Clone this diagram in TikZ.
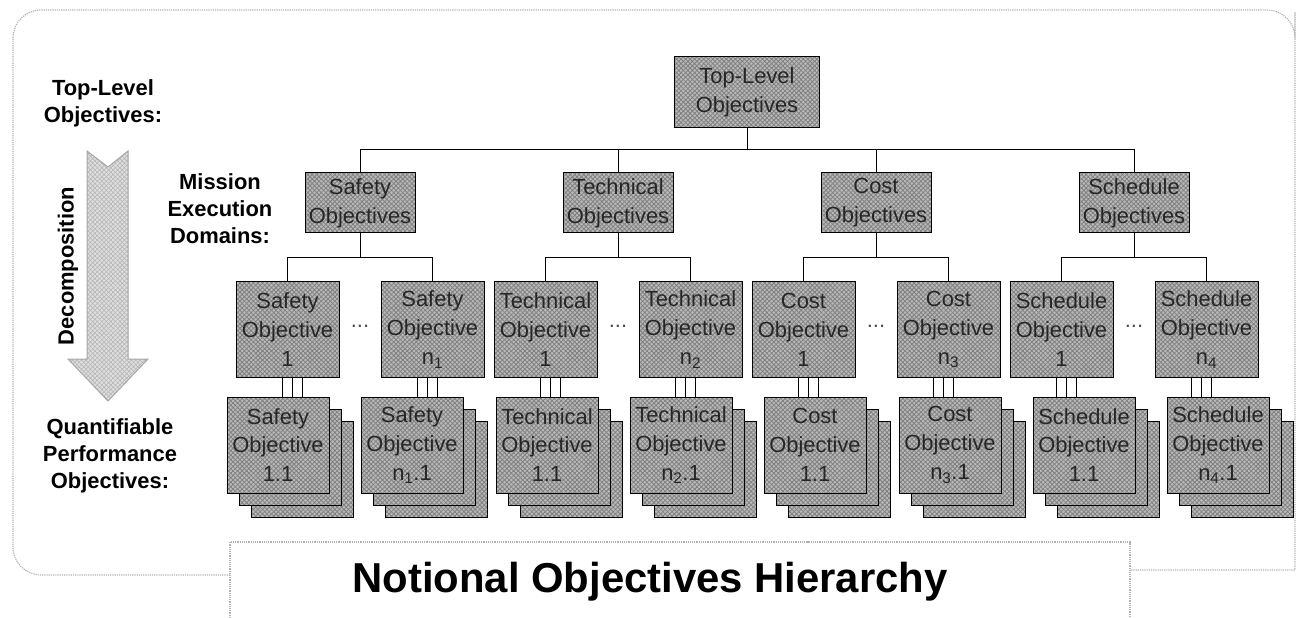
\documentclass[tikz,border=0pt]{standalone}
\usepackage{fontspec}
\setmainfont{Liberation Sans}
\usetikzlibrary{patterns.meta}

\begin{document}
\begin{tikzpicture}[x=1bp,y=-1bp,line width=1bp,
  every node/.style={font=\fontsize{22}{29}\selectfont,align=center,inner sep=0pt},
  hatched/.style={draw=black,preaction={fill=gray!55},pattern={Hatch[angle=45,distance=3.2bp,line width=0.8bp]},pattern color=black!50,text=black!85},
  topbox/.style={hatched,minimum width=145bp,minimum height=71bp},
  domainbox/.style={hatched,minimum width=110bp,minimum height=60bp},
  goalbox/.style={hatched,minimum width=103bp,minimum height=95bp},
  metricbox/.style={hatched,minimum width=102bp,minimum height=96bp},
  sidelabel/.style={font=\bfseries\fontsize{22}{27}\selectfont},
  frame/.style={draw=gray!60,densely dotted,line width=1.2bp}]
\useasboundingbox (0,0) rectangle (1297,618);

% border and title tab
\draw[frame,rounded corners=28bp] (230,575) -- (13,575) -- (13,10) -- (1295,10) -- (1295,40) [sharp corners] -- (1295,570) -- (1130,570);
\draw[frame] (230,618) -- (230,542) -- (1130,542) -- (1130,618);
\node[font=\bfseries\fontsize{42}{50}\selectfont] (title) at (650,582) {Notional Objectives Hierarchy};

% left side labels and the big arrow
\node[sidelabel] (lvltop) at (103,103) {Top-Level\\Objectives:};
\draw[draw=gray!70,preaction={fill=gray!25},pattern={Hatch[angle=45,distance=3.2bp,line width=0.7bp]},pattern color=gray!55]
  (87,151) -- (108,167) -- (128,151) -- (128,359) -- (148,359) -- (108,401) -- (68,359) -- (87,359) -- cycle;
\node[sidelabel,rotate=90] (decomp) at (68,266) {Decomposition};
\node[sidelabel] (lvldom) at (220,209) {Mission\\Execution\\Domains:};
\node[sidelabel] (lvlqpo) at (110,456) {Quantifiable\\Performance\\Objectives:};

% top and domains
\node[topbox] (top) at (747,92) {Top-Level\\Objectives};
\node[domainbox] (saf) at (360,203) {Safety\\Objectives};
\node[domainbox] (tec) at (618,203) {Technical\\Objectives};
\node[domainbox] (cst) at (876,203) {Cost\\Objectives};
\node[domainbox] (sch) at (1134,203) {Schedule\\Objectives};
\draw (top.south) -- ++(0,22) -| (saf.north);
\draw (top.south) -- ++(0,22) -| (tec.north);
\draw (top.south) -- ++(0,22) -| (cst.north);
\draw (top.south) -- ++(0,22) -| (sch.north);

% domain objectives
\node[goalbox] (saf1) at (287.5,329.5) {Safety\\Objective\\1};
\node[goalbox] (safn) at (432.5,329.5) {Safety\\Objective\\n\textsubscript{1}};
\node[goalbox] (tec1) at (545.5,329.5) {Technical\\Objective\\1};
\node[goalbox] (tecn) at (690.5,329.5) {Technical\\Objective\\n\textsubscript{2}};
\node[goalbox] (cst1) at (803.5,329.5) {Cost\\Objective\\1};
\node[goalbox] (cstn) at (948.5,329.5) {Cost\\Objective\\n\textsubscript{3}};
\node[goalbox] (sch1) at (1061.5,329.5) {Schedule\\Objective\\1};
\node[goalbox] (schn) at (1206.5,329.5) {Schedule\\Objective\\n\textsubscript{4}};
\node[text=black!70] (dsaf) at (360,326) {...};
\node[text=black!70] (dtec) at (618,326) {...};
\node[text=black!70] (dcst) at (876,326) {...};
\node[text=black!70] (dsch) at (1134,326) {...};
\draw (saf.south) -- ++(0,24) -| (saf1.north);
\draw (saf.south) -- ++(0,24) -| (safn.north);
\draw (tec.south) -- ++(0,24) -| (tec1.north);
\draw (tec.south) -- ++(0,24) -| (tecn.north);
\draw (cst.south) -- ++(0,24) -| (cst1.north);
\draw (cst.south) -- ++(0,24) -| (cstn.north);
\draw (sch.south) -- ++(0,24) -| (sch1.north);
\draw (sch.south) -- ++(0,24) -| (schn.north);

% quantifiable performance objectives (stacks of three)
\node[metricbox] (saf11c) at (302,469) {};
\node[metricbox] (saf11b) at (290,457) {};
\node[metricbox] (saf11) at (278,445) {Safety\\Objective\\1.1};
\node[metricbox] (safn1c) at (436,469) {};
\node[metricbox] (safn1b) at (424,457) {};
\node[metricbox] (safn1) at (412,445) {Safety\\Objective\\n\textsubscript{1}.1};
\node[metricbox] (tec11c) at (571,469) {};
\node[metricbox] (tec11b) at (559,457) {};
\node[metricbox] (tec11) at (547,445) {Technical\\Objective\\1.1};
\node[metricbox] (tecn1c) at (705,469) {};
\node[metricbox] (tecn1b) at (693,457) {};
\node[metricbox] (tecn1) at (681,445) {Technical\\Objective\\n\textsubscript{2}.1};
\node[metricbox] (cst11c) at (839,469) {};
\node[metricbox] (cst11b) at (827,457) {};
\node[metricbox] (cst11) at (815,445) {Cost\\Objective\\1.1};
\node[metricbox] (cstn1c) at (974,469) {};
\node[metricbox] (cstn1b) at (962,457) {};
\node[metricbox] (cstn1) at (950,445) {Cost\\Objective\\n\textsubscript{3}.1};
\node[metricbox] (sch11c) at (1108,469) {};
\node[metricbox] (sch11b) at (1096,457) {};
\node[metricbox] (sch11) at (1084,445) {Schedule\\Objective\\1.1};
\node[metricbox] (schn1c) at (1242,469) {};
\node[metricbox] (schn1b) at (1230,457) {};
\node[metricbox] (schn1) at (1218,445) {Schedule\\Objective\\n\textsubscript{4}.1};
\draw ([xshift=-5bp]saf1.south) -- ([xshift=-5bp]saf1.south |- saf11.north);
\draw ([xshift=5bp]saf1.south) -- ([xshift=5bp]saf1.south |- saf11.north);
\draw ([xshift=15bp]saf1.south) -- ([xshift=15bp]saf1.south |- saf11.north);
\draw ([xshift=-15bp]safn.south) -- ([xshift=-15bp]safn.south |- safn1.north);
\draw ([xshift=-5bp]safn.south) -- ([xshift=-5bp]safn.south |- safn1.north);
\draw ([xshift=5bp]safn.south) -- ([xshift=5bp]safn.south |- safn1.north);
\draw ([xshift=-5bp]tec1.south) -- ([xshift=-5bp]tec1.south |- tec11.north);
\draw ([xshift=5bp]tec1.south) -- ([xshift=5bp]tec1.south |- tec11.north);
\draw ([xshift=15bp]tec1.south) -- ([xshift=15bp]tec1.south |- tec11.north);
\draw ([xshift=-15bp]tecn.south) -- ([xshift=-15bp]tecn.south |- tecn1.north);
\draw ([xshift=-5bp]tecn.south) -- ([xshift=-5bp]tecn.south |- tecn1.north);
\draw ([xshift=5bp]tecn.south) -- ([xshift=5bp]tecn.south |- tecn1.north);
\draw ([xshift=-5bp]cst1.south) -- ([xshift=-5bp]cst1.south |- cst11.north);
\draw ([xshift=5bp]cst1.south) -- ([xshift=5bp]cst1.south |- cst11.north);
\draw ([xshift=15bp]cst1.south) -- ([xshift=15bp]cst1.south |- cst11.north);
\draw ([xshift=-15bp]cstn.south) -- ([xshift=-15bp]cstn.south |- cstn1.north);
\draw ([xshift=-5bp]cstn.south) -- ([xshift=-5bp]cstn.south |- cstn1.north);
\draw ([xshift=5bp]cstn.south) -- ([xshift=5bp]cstn.south |- cstn1.north);
\draw ([xshift=-5bp]sch1.south) -- ([xshift=-5bp]sch1.south |- sch11.north);
\draw ([xshift=5bp]sch1.south) -- ([xshift=5bp]sch1.south |- sch11.north);
\draw ([xshift=15bp]sch1.south) -- ([xshift=15bp]sch1.south |- sch11.north);
\draw ([xshift=-15bp]schn.south) -- ([xshift=-15bp]schn.south |- schn1.north);
\draw ([xshift=-5bp]schn.south) -- ([xshift=-5bp]schn.south |- schn1.north);
\draw ([xshift=5bp]schn.south) -- ([xshift=5bp]schn.south |- schn1.north);
\end{tikzpicture}
\end{document}
